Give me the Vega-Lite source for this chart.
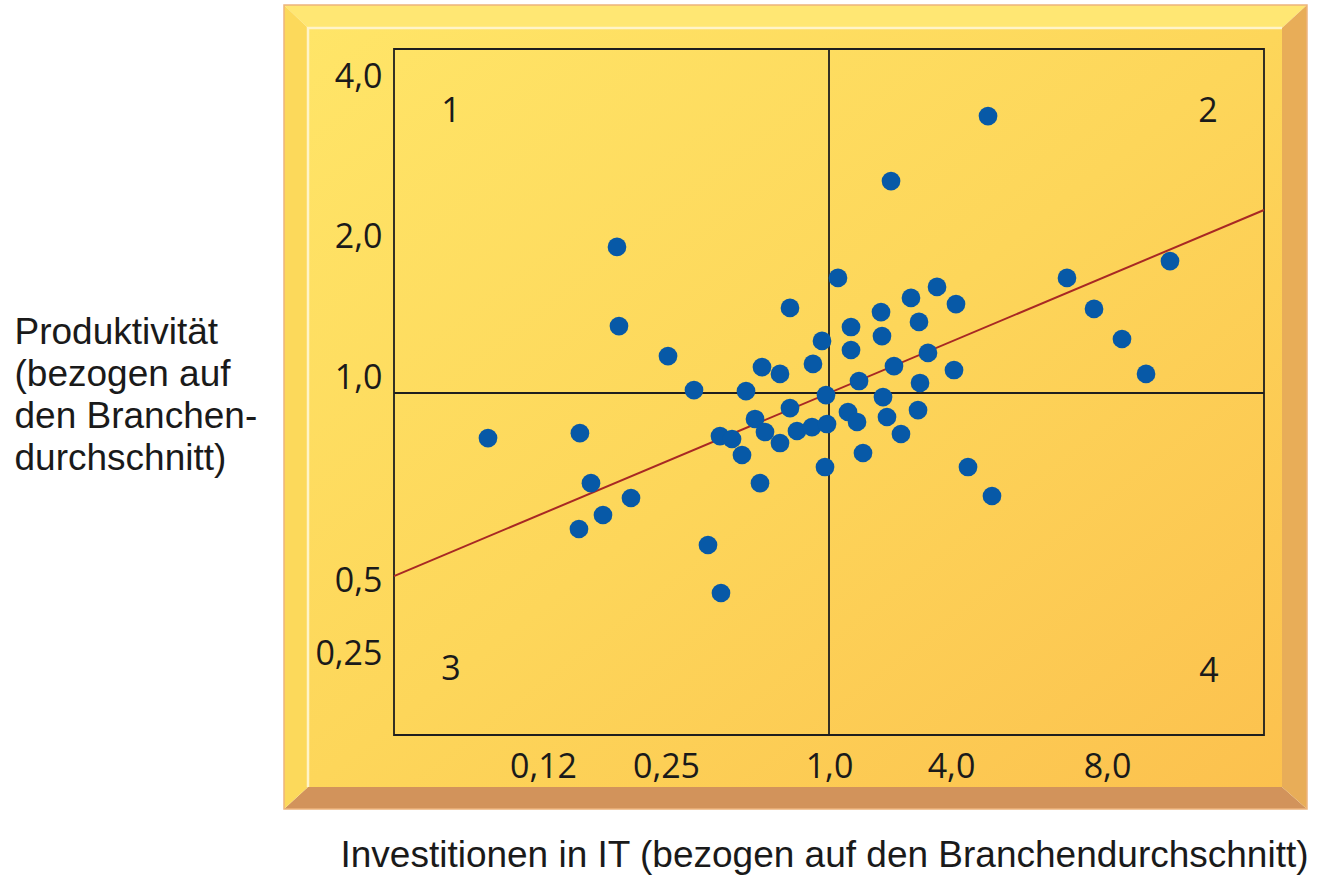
{
  "$schema": "https://vega.github.io/schema/vega-lite/v6.json",
  "width": 870,
  "height": 686,
  "autosize": "none",
  "padding": {"left": 394, "top": 49, "right": 57, "bottom": 142},
  "background": "white",
  "config": {"view": {"stroke": null}},
  "datasets": {
    "points": [
      {"x": 0.0757, "y": 0.889}, {"x": 0.159, "y": 0.901}, {"x": 0.1707, "y": 0.778}, {"x": 0.213, "y": 0.7414},
      {"x": 0.1834, "y": 0.6995}, {"x": 0.158, "y": 0.665}, {"x": 0.1982, "y": 2.063}, {"x": 0.2003, "y": 1.475},
      {"x": 0.2592, "y": 1.262}, {"x": 0.3788, "y": 1.021}, {"x": 0.4432, "y": 0.6256}, {"x": 0.503, "y": 0.5074},
      {"x": 0.4985, "y": 0.894}, {"x": 0.5537, "y": 0.8867}, {"x": 0.5997, "y": 0.8473}, {"x": 0.6181, "y": 1.014},
      {"x": 0.6595, "y": 0.936}, {"x": 0.6825, "y": 0.778}, {"x": 0.6917, "y": 1.184}, {"x": 0.7745, "y": 1.135},
      {"x": 0.7745, "y": 0.8768}, {"x": 0.7055, "y": 0.9039}, {"x": 0.8205, "y": 1.603}, {"x": 0.8205, "y": 0.963},
      {"x": 0.8527, "y": 0.9064}, {"x": 0.9217, "y": 0.9162}, {"x": 0.9263, "y": 1.206}, {"x": 0.9678, "y": 1.369},
      {"x": 0.9862, "y": 0.995}, {"x": 0.9908, "y": 0.9236}, {"x": 0.9816, "y": 0.8177}, {"x": 1.221, "y": 1.816},
      {"x": 1.541, "y": 1.468}, {"x": 1.541, "y": 1.305}, {"x": 1.467, "y": 0.9532}, {"x": 1.689, "y": 0.9286},
      {"x": 1.738, "y": 1.085}, {"x": 1.836, "y": 0.8522}, {"x": 2.279, "y": 1.574}, {"x": 2.303, "y": 1.404},
      {"x": 2.328, "y": 0.99}, {"x": 2.426, "y": 0.9409}, {"x": 2.525, "y": 2.89}, {"x": 2.598, "y": 1.191},
      {"x": 2.77, "y": 0.899}, {"x": 3.016, "y": 1.674}, {"x": 3.213, "y": 1.504}, {"x": 3.238, "y": 1.071},
      {"x": 3.189, "y": 0.958}, {"x": 3.434, "y": 1.284}, {"x": 3.656, "y": 1.752}, {"x": 4.128, "y": 1.631},
      {"x": 4.077, "y": 1.163}, {"x": 4.436, "y": 0.8177}, {"x": 4.949, "y": 3.705}, {"x": 5.051, "y": 0.7463},
      {"x": 6.974, "y": 1.816}, {"x": 7.667, "y": 1.596}, {"x": 8.382, "y": 1.383}, {"x": 8.994, "y": 1.135},
      {"x": 9.605, "y": 1.936}
    ],
    "bevel": [
      {"part": "top", "x": -2, "y": 7, "y2": 7}, {"part": "top", "x": -1, "y": 7, "y2": 6},
      {"part": "top", "x": 13, "y": 7, "y2": 6}, {"part": "top", "x": 14, "y": 7, "y2": 7},
      {"part": "bottom", "x": -2, "y": -2, "y2": -2}, {"part": "bottom", "x": -1, "y": -2, "y2": -1},
      {"part": "bottom", "x": 13, "y": -2, "y2": -1}, {"part": "bottom", "x": 14, "y": -2, "y2": -2},
      {"part": "left", "y": -2, "x": -2, "x2": -2}, {"part": "left", "y": -1, "x": -2, "x2": -1},
      {"part": "left", "y": 6, "x": -2, "x2": -1}, {"part": "left", "y": 7, "x": -2, "x2": -2},
      {"part": "right", "y": -2, "x": 14, "x2": 14}, {"part": "right", "y": -1, "x": 13, "x2": 14},
      {"part": "right", "y": 6, "x": 13, "x2": 14}, {"part": "right", "y": 7, "x": 14, "x2": 14}
    ],
    "face": [{"x": -1, "x2": 13, "y": -1, "y2": 6}],
    "outer": [{"x": -2, "x2": 14, "y": -2, "y2": 7}],
    "box": [{"x": 0, "x2": 12, "y": 0, "y2": 5}],
    "highlight": [{"x": -1, "y": -1, "i": 0}, {"x": -1, "y": 6, "i": 1}, {"x": 13, "y": 6, "i": 2}],
    "cross": [{"x": 1, "x2": 1, "y": 0, "y2": 5}, {"x": 0, "x2": 12, "y": 1, "y2": 1}],
    "trend": [{"x": 0, "y": 0.549}, {"x": 12, "y": 2.527}],
    "quadrants": [
      {"x": 0.0459, "y": 3.756, "t": "1"}, {"x": 10.573, "y": 3.756, "t": "2"},
      {"x": 0.0459, "y": 0.246, "t": "3"}, {"x": 10.6, "y": 0.2386, "t": "4"}
    ]
  },
  "encoding": {
    "x": {
      "field": "x", "type": "quantitative",
      "scale": {"type": "linear", "domain": [-2, -1, 0, 0.12, 0.25, 1, 4, 8, 12, 13, 14], "range": [-110, -86, 0, 149, 272, 435, 557, 713, 870, 888, 913], "nice": false, "zero": false},
      "axis": {
        "values": [0.12, 0.25, 1, 4, 8],
        "labelExpr": "replace(format(datum.value, datum.value < 0.3 ? '.2f' : '.1f'), '.', ',')",
        "domain": false, "ticks": false, "tickSize": 0, "grid": false,
        "labelPadding": 32, "labelBaseline": "middle", "labelFont": "Open Sans", "labelFontSize": 34,
        "labelColor": "#1a1a1a", "labelFlush": false, "labelOverlap": false,
        "title": "Investitionen in IT (bezogen auf den Branchendurchschnitt)",
        "titleFont": "Liberation Sans", "titleFontSize": 37, "titleFontWeight": "normal", "titleColor": "#1a1a1a",
        "titleAlign": "center", "titleBaseline": "alphabetic", "titleX": 430, "titleY": 131, "zindex": 1
      }
    },
    "y": {
      "field": "y", "type": "quantitative",
      "scale": {"type": "linear", "domain": [-2, -1, 0, 0.25, 0.5, 1, 2, 4, 5, 6, 7], "range": [760, 738, 686, 620, 547, 344, 203, 43.5, 0, -21, -44], "nice": false, "zero": false},
      "axis": {
        "values": [0.25, 0.5, 1, 2, 4],
        "labelExpr": "replace(format(datum.value, datum.value < 0.3 ? '.2f' : '.1f'), '.', ',')",
        "domain": false, "ticks": false, "tickSize": 0, "grid": false,
        "labelPadding": 12, "labelOffset": -15, "labelAlign": "right", "labelBaseline": "middle",
        "labelFont": "Open Sans", "labelFontSize": 34, "labelColor": "#1a1a1a", "labelFlush": false, "labelOverlap": false,
        "title": ["Produktivität", "(bezogen auf", "den Branchen-", "durchschnitt)"],
        "titleFont": "Liberation Sans", "titleFontSize": 37, "titleFontWeight": "normal", "titleColor": "#1a1a1a",
        "titleAngle": 0, "titleAlign": "left", "titleBaseline": "alphabetic", "titleX": -380, "titleY": 294,
        "titleLineHeight": 42, "zindex": 1
      }
    }
  },
  "layer": [
    {
      "data": {"name": "bevel"},
      "transform": [{"filter": "datum.part == 'top'"}],
      "mark": {"type": "area", "orient": "vertical", "color": "#FFE773"},
      "encoding": {"y2": {"field": "y2"}}
    },
    {
      "data": {"name": "bevel"},
      "transform": [{"filter": "datum.part == 'bottom'"}],
      "mark": {"type": "area", "orient": "vertical", "color": "#D2935B"},
      "encoding": {"y2": {"field": "y2"}}
    },
    {
      "data": {"name": "bevel"},
      "transform": [{"filter": "datum.part == 'left'"}],
      "mark": {"type": "area", "orient": "horizontal", "color": "#FCD95B"},
      "encoding": {"x2": {"field": "x2"}}
    },
    {
      "data": {"name": "bevel"},
      "transform": [{"filter": "datum.part == 'right'"}],
      "mark": {"type": "area", "orient": "horizontal", "color": "#E8AD58"},
      "encoding": {"x2": {"field": "x2"}}
    },
    {
      "data": {"name": "outer"},
      "mark": {"type": "rect", "fill": null, "stroke": "#EDB47C", "strokeWidth": 1.5},
      "encoding": {"x2": {"field": "x2"}, "y2": {"field": "y2"}}
    },
    {
      "data": {"name": "face"},
      "mark": {
        "type": "rect",
        "fill": {"gradient": "linear", "x1": 0, "y1": 0, "x2": 1, "y2": 1,
          "stops": [{"offset": 0, "color": "#FFE568"}, {"offset": 0.5, "color": "#FDD65A"}, {"offset": 1, "color": "#FCC14E"}]}
      },
      "encoding": {"x2": {"field": "x2"}, "y2": {"field": "y2"}}
    },
    {
      "data": {"name": "highlight"},
      "mark": {"type": "line", "color": "#FFF4C8", "strokeWidth": 2.5},
      "encoding": {"order": {"field": "i", "type": "quantitative"}}
    },
    {
      "data": {"name": "box"},
      "mark": {"type": "rect", "fill": null, "stroke": "#1e1e1e", "strokeWidth": 1.8},
      "encoding": {"x2": {"field": "x2"}, "y2": {"field": "y2"}}
    },
    {
      "data": {"name": "cross"},
      "mark": {"type": "rule", "color": "#1e1e1e", "strokeWidth": 1.8},
      "encoding": {"x2": {"field": "x2"}, "y2": {"field": "y2"}}
    },
    {
      "data": {"name": "trend"},
      "mark": {"type": "line", "color": "#A82824", "strokeWidth": 2},
      "encoding": {}
    },
    {
      "data": {"name": "points"},
      "mark": {"type": "circle", "size": 350, "color": "#0759A7", "opacity": 1},
      "encoding": {}
    },
    {
      "data": {"name": "quadrants"},
      "mark": {"type": "text", "font": "Open Sans", "fontSize": 34, "color": "#1a1a1a", "align": "center", "baseline": "middle"},
      "encoding": {"text": {"field": "t"}}
    }
  ]
}
